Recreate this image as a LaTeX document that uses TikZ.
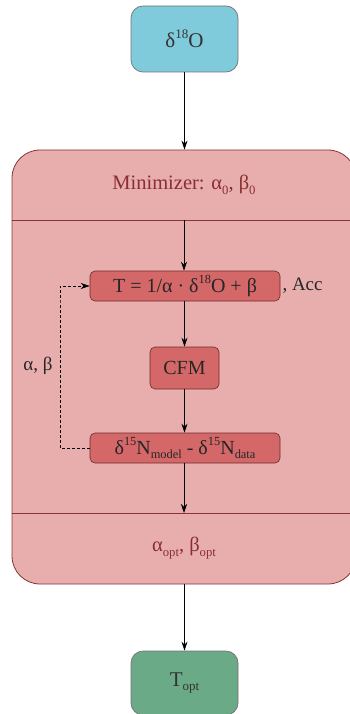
\documentclass[tikz,border=0pt]{standalone}
\usepackage{fontspec}
\setmainfont{Liberation Serif}
\usetikzlibrary{arrows.meta,calc}
\definecolor{inblue}{HTML}{7FCBDB}
\definecolor{outgreen}{HTML}{6BAA86}
\definecolor{minfill}{HTML}{E8AEAE}
\definecolor{minline}{HTML}{8A3535}
\definecolor{stepfill}{HTML}{D46868}
\definecolor{stepline}{HTML}{6E2A2A}
\definecolor{headtext}{HTML}{8A2E32}
% small raised / lowered indices, sized from the surrounding text
\newcommand\hi[1]{\raisebox{0.42em}{\fontsize{0.62em}{0.62em}\selectfont #1}}
\newcommand\lo[1]{\raisebox{-0.22em}{\fontsize{0.62em}{0.62em}\selectfont #1}}
\tikzset{
  x=1pt, y=-1pt,
  io/.style={draw=black!55, rounded corners=12pt, line width=0.7pt, minimum width=107pt, minimum height=66pt, font=\fontsize{21}{24}\selectfont, text=black!80},
  stepbox/.style={draw=stepline, fill=stepfill, rounded corners=5pt, line width=0.6pt, minimum height=30pt, inner sep=0pt, font=\fontsize{20}{22}\selectfont, text=black!85},
  flow/.style={-{Stealth[length=9pt,width=6pt]}, line width=0.6pt},
  head/.style={font=\fontsize{20.5}{23}\selectfont, text=headtext},
  side/.style={font=\fontsize{19}{21}\selectfont, text=black!85},
}
\begin{document}
\begin{tikzpicture}
\useasboundingbox (0,0) rectangle (350,714);
\clip (0,0) rectangle (350,714);
% input and output
\node[io, fill=inblue] (in) at (184.5,39) {δ\hi{18}O};
\node[io, fill=outgreen, minimum height=64pt] (out) at (184.5,683) {T\lo{opt}};
% minimizer container
\node[draw=minline, fill=minfill, line width=0.8pt, rounded corners=28pt, minimum width=344pt, minimum height=434pt] (mini) at (184,367) {};
\coordinate (topsep) at (184,220);
\coordinate (botsep) at (184,513);
\draw[minline, line width=0.8pt] (mini.west |- topsep) -- (mini.east |- topsep);
\draw[minline, line width=0.8pt] (mini.west |- botsep) -- (mini.east |- botsep);
\node[head] (hdr) at (184,185) {Minimizer: α\lo{0}, β\lo{0}};
\node[head] (res) at (184,548) {α\lo{opt}, β\lo{opt}};
% inner steps
\node[stepbox, minimum width=190pt] (temp) at (185,286) {T = 1/α · δ\hi{18}O + β};
\node[side, anchor=west, inner sep=2pt] (acc) at (temp.east) {, Acc};
\node[stepbox, minimum width=69pt, minimum height=42pt] (cfm) at (184.5,368) {CFM};
\node[stepbox, minimum width=190pt] (diff) at (185,448) {δ\hi{15}N\lo{model} - δ\hi{15}N\lo{data}};
\node[side] (ab) at (38,366) {α, β};
% connectors
\draw[flow] (in) -- (mini.north -| in);
\draw[flow] (topsep) -- (temp.north -| topsep);
\draw[flow] (temp.south -| cfm) -- (cfm);
\draw[flow] (cfm) -- (diff.north -| cfm);
\draw[flow] (diff.south -| botsep) -- (botsep);
\draw[flow] (mini.south -| out) -- (out);
\draw[flow, dashed, line width=0.5pt, dash pattern=on 3pt off 2pt] (diff.west) -| (60,300) |- (temp.west);
\end{tikzpicture}
\end{document}
